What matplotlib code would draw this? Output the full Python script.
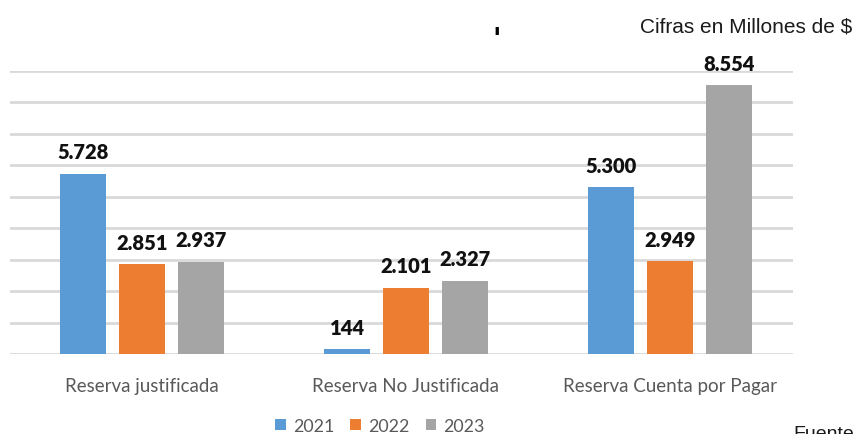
import matplotlib.pyplot as plt
import numpy as np

# Datos (cifras en millones de $)
categorias = ["Reserva justificada", "Reserva No Justificada", "Reserva Cuenta por Pagar"]
anios = ["2021", "2022", "2023"]
v2021 = [5728, 144, 5300]
v2022 = [2851, 2101, 2949]
v2023 = [2937, 2327, 8554]
colores = ["#5B9BD5", "#ED7D31", "#A5A5A5"]

fig = plt.figure(figsize=(8.56, 4.35), dpi=100)
ax = fig.add_axes([10 / 856, 1 - 355 / 435, 783 / 856, 283 / 435])

x = np.arange(len(categorias))
ancho = 0.174
paso = 0.222
for i, (serie, anio) in enumerate(zip([v2021, v2022, v2023], anios)):
    barras = ax.bar(x + (i - 1) * paso, serie, ancho, color=colores[i], label=anio, zorder=3)
    for b, v in zip(barras, serie):
        txt = f"{v:,}".replace(",", ".")
        ax.annotate(txt, (b.get_x() + b.get_width() / 2, v), xytext=(0, 9),
                    textcoords="offset points", ha="center", va="bottom",
                    fontsize=14.5, fontweight="heavy", family="Lato", color="#111111")

ax.set_ylim(0, 9000)
ax.set_xlim(-0.5, 2.466)
ax.set_yticks(np.arange(0, 9001, 1000))
ax.yaxis.grid(True, color="#D9D9D9", linewidth=2)
ax.set_axisbelow(True)
ax.tick_params(axis="y", left=False, labelleft=False)
ax.tick_params(axis="x", bottom=False, pad=13)
ax.set_xticks(x)
ax.set_xticklabels(categorias, fontsize=13.5, family="Lato", color="#595959")
for s in ax.spines.values():
    s.set_visible(False)

leg = fig.legend(loc="center", bbox_to_anchor=(380 / 856, 1 - 427 / 435), ncol=3,
                 frameon=False, prop={"family": "Lato", "size": 12.8},
                 handlelength=0.6, handleheight=0.6, handletextpad=0.4, columnspacing=0.9)
for t in leg.get_texts():
    t.set_color("#595959")

fig.text(852 / 856, 1 - 27 / 435, "Cifras en Millones de $", ha="right", va="center",
         fontsize=15, family="Liberation Sans", color="#1a1a1a")
fig.text(497 / 856, 1 - 40 / 435, "'", ha="center", va="center",
         fontsize=20, fontweight="bold", family="DejaVu Sans", color="black")
fig.text(793 / 856, 1 - 426 / 435, "Fuente", ha="left", va="top",
         fontsize=14, family="Liberation Sans", color="#1a1a1a")

fig.savefig("out.png", dpi=100)
